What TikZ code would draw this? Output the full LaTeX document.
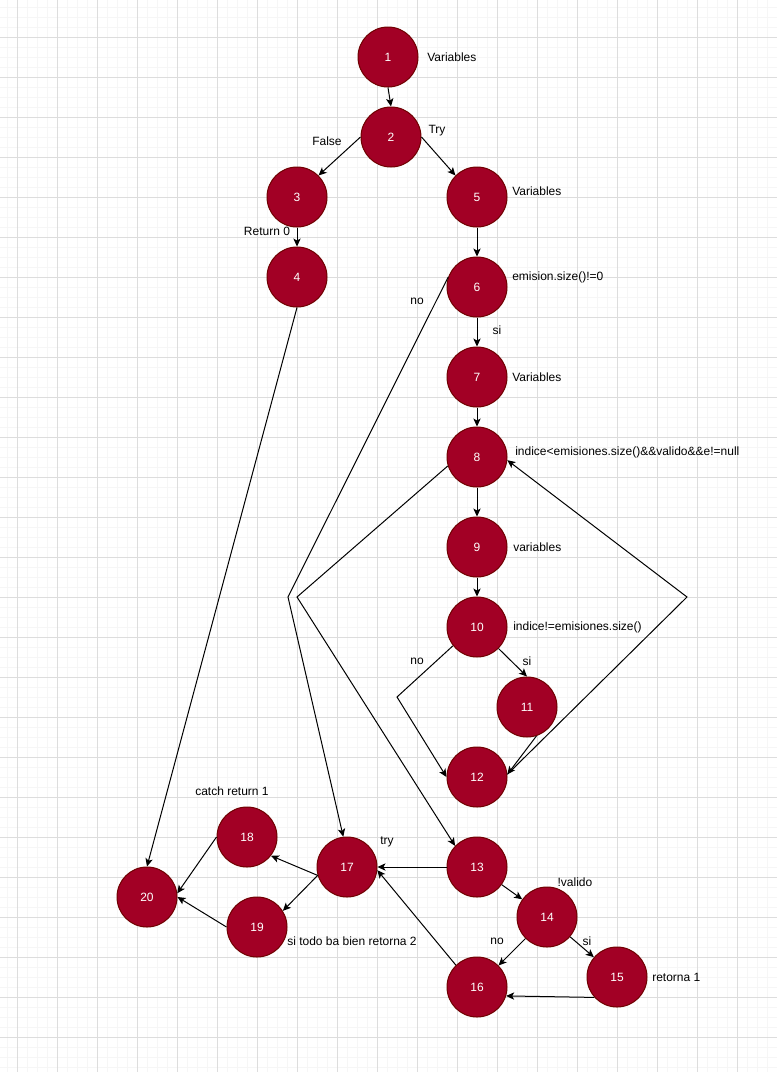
\documentclass[tikz,border=0pt]{standalone}
\usepackage{fontspec}
\setmainfont{Liberation Sans}
\usetikzlibrary{arrows.meta}
\definecolor{nodefill}{HTML}{A20025}
\definecolor{nodeline}{HTML}{6F0000}
\definecolor{gridminor}{HTML}{F6F6F6}
\definecolor{gridmajor}{HTML}{DDDDDD}
\tikzset{
  vert/.style={circle,fill=nodefill,draw=nodeline,line width=0.75pt,minimum size=45pt,inner sep=0pt,text=white,font=\fontsize{9}{11}\selectfont},
  lbl/.style={inner sep=0pt,font=\fontsize{9}{11}\selectfont,text=black},
  lblw/.style={lbl,anchor=west},
  edge/.style={draw=black,line width=0.75pt,-{Stealth[length=6pt,width=5.5pt,inset=1.5pt]}},
}
\begin{document}
\begin{tikzpicture}[x=0.75pt,y=-0.75pt]
\useasboundingbox (0,0) rectangle (777,1072);
\fill[white] (0,0) rectangle (777,1072);
% grid
\foreach \gx in {7,17,...,777} {\draw[gridminor,line width=0.75pt] (\gx,0) -- (\gx,1072);}
\foreach \gy in {7,17,...,1072} {\draw[gridminor,line width=0.75pt] (0,\gy) -- (777,\gy);}
\foreach \gx in {17,57,...,777} {\draw[gridmajor,line width=0.75pt] (\gx,0) -- (\gx,1072);}
\foreach \gy in {37,77,...,1072} {\draw[gridmajor,line width=0.75pt] (0,\gy) -- (777,\gy);}
% nodes
\node[vert] (n1) at (388,57) {1};
\node[vert] (n2) at (391,137) {2};
\node[vert] (n3) at (297,197) {3};
\node[vert] (n4) at (297,277) {4};
\node[vert] (n5) at (477,197) {5};
\node[vert] (n6) at (477,287) {6};
\node[vert] (n7) at (477,377) {7};
\node[vert] (n8) at (477,457) {8};
\node[vert] (n9) at (477,547) {9};
\node[vert] (n10) at (477,627) {10};
\node[vert] (n11) at (527,707) {11};
\node[vert] (n12) at (477,777) {12};
\node[vert] (n13) at (477,867) {13};
\node[vert] (n14) at (547,917) {14};
\node[vert] (n15) at (617,977) {15};
\node[vert] (n16) at (477,987) {16};
\node[vert] (n17) at (347,867) {17};
\node[vert] (n18) at (247,837) {18};
\node[vert] (n19) at (257,927) {19};
\node[vert] (n20) at (147,897) {20};
% labels
\node[lblw] (l1) at (427,57) {Variables};
\node[lbl] (lfalse) at (327,141) {False};
\node[lbl] (ltry) at (437,131) {Try};
\node[lblw] (l5) at (512,191) {Variables};
\node[lbl] (lret0) at (267,231) {Return 0};
\node[lblw] (l6) at (512,277) {emision.size()!=0};
\node[lbl] (lno6) at (417,301) {no};
\node[lbl] (lsi6) at (497,330) {si};
\node[lblw] (l7) at (512,377) {Variables};
\node[lblw] (l8) at (515,452) {indice<emisiones.size()\&\&valido\&\&e!=null};
\node[lblw] (l9) at (513,547) {variables};
\node[lblw] (l10) at (513,627) {indice!=emisiones.size()};
\node[lbl] (lno10) at (417,661) {no};
\node[lbl] (lsi10) at (527,661) {si};
\node[lbl] (l18) at (232,791) {catch return 1};
\node[lbl] (l17) at (387,842) {try};
\node[lbl] (l14) at (575,882) {!valido};
\node[lbl] (lno14) at (497,941) {no};
\node[lbl] (lsi14) at (587,941) {si};
\node[lblw] (l15) at (652,977) {retorna 1};
\node[lblw] (l19) at (287,941) {si todo ba bien retorna 2};
% waypoints
\coordinate (w6) at (288,597);
\coordinate (w8) at (297,597);
\coordinate (w10) at (397,697);
\coordinate (w12) at (687,597);
% edges
\draw[edge] (n1.south) -- (n2.north);
\draw[edge] (n2.180) -- (n3.45);
\draw[edge] (n2.0) -- (n5.135);
\draw[edge] (n3.south) -- (n4.north);
\draw[edge] (n5.south) -- (n6.north);
\draw[edge] (n6.161) -- (w6) -- (n17.97);
\draw[edge] (n6.south) -- (n7.north);
\draw[edge] (n7.south) -- (n8.north);
\draw[edge] (n8.south) -- (n9.north);
\draw[edge] (n8.197) -- (w8) -- (n13.136);
\draw[edge] (n9.south) -- (n10.north);
\draw[edge] (n10.315) -- (n11.north);
\draw[edge] (n10.218) -- (w10) -- (n12.west);
\draw[edge] (n11.288) -- (n12.5);
\draw[edge] (n12.5) -- (w12) -- (n8.354);
\draw[edge] (n13.west) -- (n17.east);
\draw[edge] (n13) -- (n14);
\draw[edge] (n14) -- (n16);
\draw[edge] (n14) -- (n15);
\draw[edge] (n15.222) -- (n16.343);
\draw[edge] (n16.134) -- (n17.354);
\draw[edge] (n17.196) -- (n18.322);
\draw[edge] (n17.196) -- (n19.32);
\draw[edge] (n18.west) -- (n20.7);
\draw[edge] (n19.west) -- (n20.east);
\draw[edge] (n4.south) -- (n20.north);
\end{tikzpicture}
\end{document}
